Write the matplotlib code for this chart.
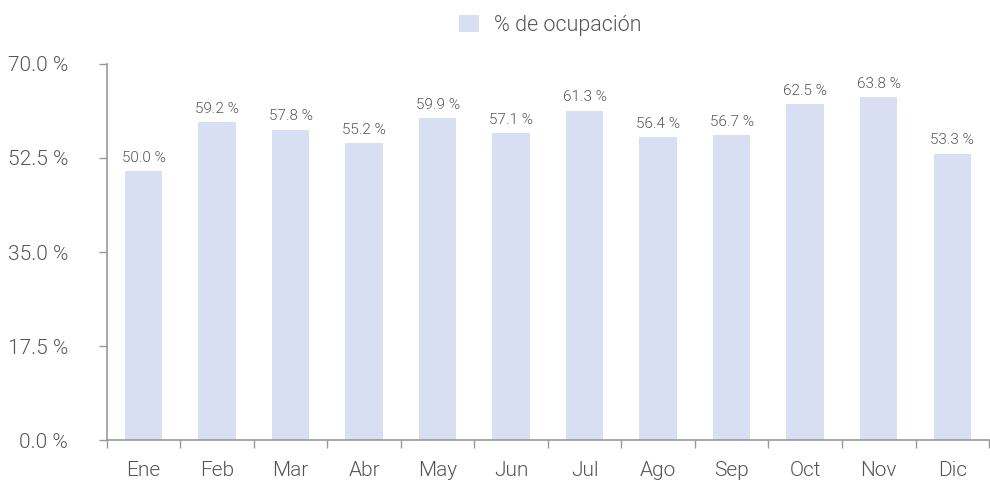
import matplotlib
matplotlib.use("Agg")
import matplotlib.pyplot as plt
from matplotlib.patches import Patch

# Datos
meses = ["Ene", "Feb", "Mar", "Abr", "May", "Jun", "Jul", "Ago", "Sep", "Oct", "Nov", "Dic"]
ocupacion = [50.0, 59.2, 57.8, 55.2, 59.9, 57.1, 61.3, 56.4, 56.7, 62.5, 63.8, 53.3]
y_ticks = [0, 17.5, 35, 52.5, 70]

bar_color = "#d9dff2"
text_color = "#555555"
axis_color = "#999999"

plt.rcParams["font.family"] = ["Roboto", "DejaVu Sans"]
plt.rcParams["font.weight"] = 300

fig = plt.figure(figsize=(9.9, 4.8), dpi=100)
ax = fig.add_axes([0.108, 0.0833, 0.891, 0.7834])

x = range(len(meses))
bars = ax.bar(x, ocupacion, width=0.51, color=bar_color)

for xi, v in zip(x, ocupacion):
    ax.text(xi, v + 1.2, f"{v:.1f} %", ha="center", va="bottom",
            fontsize=11, color=text_color, fontweight=300)

ax.set_xlim(-0.5, len(meses) - 0.5)
ax.set_ylim(0, 70)
ax.set_yticks(y_ticks)
ax.set_yticklabels([f"{t:.1f} %" for t in y_ticks])

# ticks del eje x entre categorias
ax.set_xticks([i - 0.5 for i in range(len(meses) + 1)])
ax.set_xticklabels([])
ax.set_xticks(list(x), minor=True)
ax.set_xticklabels(meses, minor=True)
ax.tick_params(axis="x", which="major", length=6, width=1, color=axis_color, direction="out", pad=2)
ax.tick_params(axis="x", which="minor", length=0, pad=15, labelsize=15, labelcolor=text_color)
ax.tick_params(axis="y", length=6, width=1, color=axis_color, labelsize=15, labelcolor=text_color, pad=22)

for s in ["top", "right"]:
    ax.spines[s].set_visible(False)
for s in ["left", "bottom"]:
    ax.spines[s].set_color(axis_color)
    ax.spines[s].set_linewidth(1.2)

handle = Patch(facecolor=bar_color, edgecolor="none")
fig.legend([handle], ["% de ocupación"], loc="upper center", bbox_to_anchor=(0.556, 1.01),
           frameon=False, fontsize=15.5, labelcolor=text_color,
           handlelength=0.9, handleheight=0.9, handletextpad=0.7)

fig.savefig("out.png", dpi=100)
